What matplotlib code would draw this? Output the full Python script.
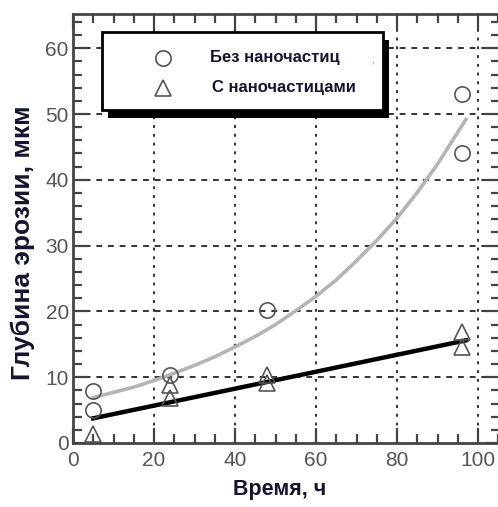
import matplotlib.pyplot as plt
from matplotlib.patches import Rectangle
from matplotlib.ticker import MultipleLocator

# точки измерений
x_bez = [5, 5, 24, 48, 96, 96]
y_bez = [7.9, 5.0, 10.3, 20.2, 53.0, 44.0]
x_s = [5, 24, 24, 48, 48, 96, 96]
y_s = [1.3, 8.8, 6.9, 10.3, 9.1, 16.9, 14.6]

# линии тренда
trend_bez_x = [5, 10, 15, 20, 25, 30, 35, 40, 45, 50, 55, 60, 65, 70, 75, 80, 85, 90, 97]
trend_bez_y = [6.9, 7.7, 8.5, 9.5, 10.6, 11.8, 13.1, 14.6, 16.2, 18.0, 20.1, 22.3,
               24.8, 27.7, 30.8, 34.2, 38.1, 42.4, 49.2]
trend_s_x = [5, 97]
trend_s_y = [3.75, 15.6]

legend_labels = ['Без наночастиц', 'С наночастицами']
xlabel = 'Время, ч'
ylabel = 'Глубина эрозии, мкм'

plt.rcParams['font.family'] = ['Liberation Sans', 'DejaVu Sans']

fig = plt.figure(figsize=(4.98, 5.07), dpi=100)
ax = fig.add_axes([73 / 498, 64 / 507, 427 / 498, 429 / 507])
ax.set_xlim(0, 105.4)
ax.set_ylim(0, 65.2)

spine_c = '#444444'
for s in ax.spines.values():
    s.set_color(spine_c)
    s.set_linewidth(2)

ax.xaxis.set_major_locator(MultipleLocator(20))
ax.xaxis.set_minor_locator(MultipleLocator(5))
ax.yaxis.set_major_locator(MultipleLocator(10))
ax.yaxis.set_minor_locator(MultipleLocator(2))
ax.tick_params(which='both', direction='in', top=True, right=True,
               color=spine_c, width=1.6, labelcolor='#555555', labelsize=15)
ax.tick_params(which='major', length=11)
ax.tick_params(which='minor', length=6.5)
ax.tick_params(axis='x', pad=6)
ax.tick_params(axis='y', pad=3)

# сетка
for v in range(20, 101, 20):
    ax.axvline(v, color='#333333', lw=1.4, ls=(0, (1.5, 3)), zorder=0)
for v in range(10, 61, 10):
    ax.axhline(v, color='#333333', lw=1.4, ls=(0, (3, 3)), zorder=0)

# данные
ax.plot(trend_bez_x, trend_bez_y, color='#b4b4b4', lw=2.6, zorder=2)
ax.plot(trend_s_x, trend_s_y, color='black', lw=3.2, zorder=2)
ax.plot(x_bez, y_bez, 'o', ms=11, mfc='none', mec='#555555', mew=1.2, zorder=3)
ax.plot(x_s, y_s, '^', ms=11, mfc='none', mec='#555555', mew=1.2, zorder=3)

# легенда
ax.add_patch(Rectangle((8.7, 49.4), 69.2, 11.9, facecolor='black', edgecolor='none', zorder=4))
ax.add_patch(Rectangle((7.2, 50.6), 69.2, 11.9, facecolor='white', edgecolor='black', lw=2, zorder=5))
ax.plot([22.2], [58.5], 'o', ms=11, mfc='none', mec='#555555', mew=1.2, zorder=6)
ax.plot([22.2], [54.0], '^', ms=11, mfc='none', mec='#555555', mew=1.2, zorder=6)
ax.text(33.8, 58.6, legend_labels[0], fontsize=12, fontweight='bold', color='#141430',
        ha='left', va='center', zorder=6)
ax.text(34.3, 54.0, legend_labels[1], fontsize=12, fontweight='bold', color='#141430',
        ha='left', va='center', zorder=6)
ax.text(74, 58.3, ';', fontsize=7, color='#888888', ha='center', va='center', zorder=6)

fig.text(280 / 498, 1 - 490 / 507, xlabel, fontsize=15.5, fontweight='bold', color='#141430',
         ha='center', va='center')
fig.text(23 / 498, 1 - 243 / 507, ylabel, fontsize=19, fontweight='bold', color='#141430',
         ha='center', va='center', rotation=90)

fig.savefig('out.png', dpi=100)
